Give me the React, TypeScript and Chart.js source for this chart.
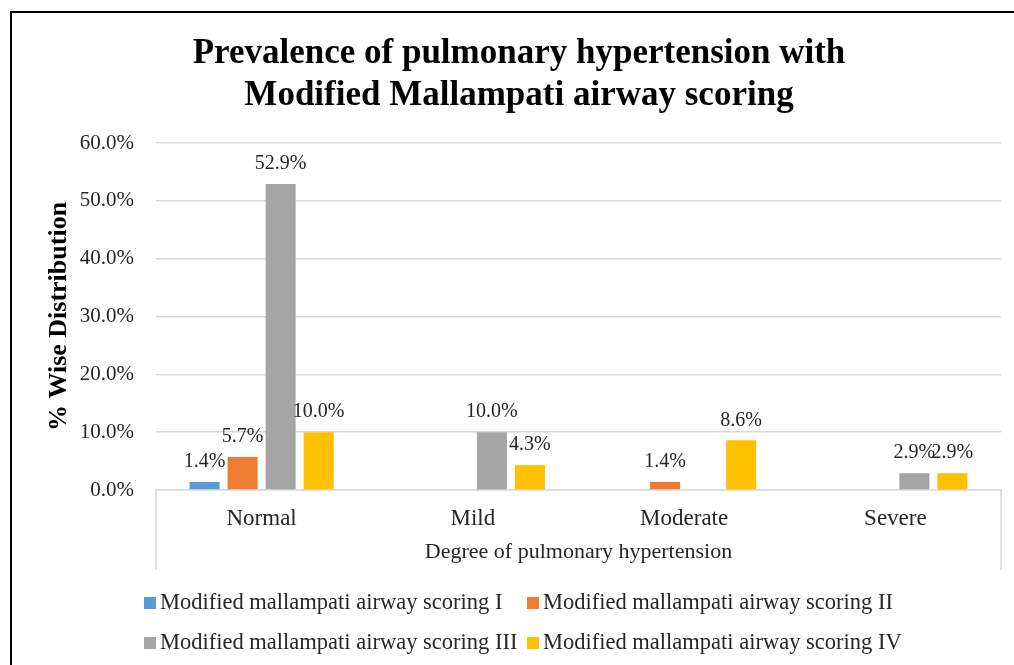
import React, { useEffect, useRef } from "react";
import { Chart, registerables } from "chart.js";

Chart.register(...registerables);

const categories = ["Normal", "Mild", "Moderate", "Severe"];
const seriesNames = [
  "Modified mallampati airway scoring I",
  "Modified mallampati airway scoring II",
  "Modified mallampati airway scoring III",
  "Modified mallampati airway scoring IV",
];
const scoringI = [1.4, 0, 0, 0];
const scoringII = [5.7, 0, 1.4, 0];
const scoringIII = [52.9, 10.0, 0, 2.9];
const scoringIV = [10.0, 4.3, 8.6, 2.9];
const seriesColors = ["#5B9BD5", "#ED7D31", "#A5A5A5", "#FFC000"];
const titleLines = [
  "Prevalence of pulmonary hypertension with",
  "Modified Mallampati airway scoring",
];
const yAxisTitle = "% Wise Distribution";
const xAxisTitle = "Degree of pulmonary hypertension";

const SERIF = "'Liberation Serif', 'Times New Roman', serif";
const TEXT = "#262626";
const GRID = "#D9D9D9";

const decorPlugin = {
  id: "decor",
  beforeDraw(chart: any) {
    const ctx = chart.ctx;
    ctx.save();
    ctx.fillStyle = "#ffffff";
    ctx.fillRect(0, 0, chart.width, chart.height);
    ctx.restore();
  },
  afterDraw(chart: any) {
    const ctx = chart.ctx;
    const area = chart.chartArea;
    const xs = chart.scales.x;
    ctx.save();
    // outer border
    ctx.strokeStyle = "#000";
    ctx.lineWidth = 2;
    ctx.strokeRect(11, 12, chart.width + 50, chart.height + 50);
    // title
    ctx.fillStyle = "#000";
    ctx.font = `bold 35px ${SERIF}`;
    ctx.textAlign = "center";
    ctx.textBaseline = "middle";
    titleLines.forEach((t, i) => ctx.fillText(t, 519, 54 + i * 42));
    // category box side lines
    ctx.strokeStyle = GRID;
    ctx.lineWidth = 1.5;
    ctx.beginPath();
    ctx.moveTo(area.left, area.bottom);
    ctx.lineTo(area.left, xs.bottom + 5);
    ctx.moveTo(area.right, area.bottom);
    ctx.lineTo(area.right, xs.bottom + 5);
    ctx.stroke();
    // legend
    const cols = [144, 527];
    const rows = [603, 643];
    ctx.font = `22.5px ${SERIF}`;
    ctx.textAlign = "left";
    ctx.textBaseline = "middle";
    seriesNames.forEach((name, i) => {
      const cx = cols[i % 2];
      const cy = rows[Math.floor(i / 2)];
      ctx.fillStyle = seriesColors[i];
      ctx.fillRect(cx, cy - 6, 12, 12);
      ctx.fillStyle = TEXT;
      ctx.fillText(name, cx + 16, cy);
    });
    ctx.restore();
  },
  afterDatasetsDraw(chart: any) {
    const ctx = chart.ctx;
    ctx.save();
    ctx.font = `20px ${SERIF}`;
    ctx.fillStyle = TEXT;
    ctx.textAlign = "center";
    ctx.textBaseline = "middle";
    chart.data.datasets.forEach((ds: any, di: number) => {
      const meta = chart.getDatasetMeta(di);
      meta.data.forEach((el: any, i: number) => {
        const v = ds.data[i];
        if (v > 0) ctx.fillText(v.toFixed(1) + "%", el.x, el.y - 20);
      });
    });
    ctx.restore();
  },
};

export default function App() {
  const ref = useRef<HTMLCanvasElement>(null);
  useEffect(() => {
    if (!ref.current) return;
    const data = [scoringI, scoringII, scoringIII, scoringIV];
    const chart = new Chart(ref.current, {
      type: "bar",
      data: {
        labels: categories,
        datasets: seriesNames.map((n, i) => ({
          label: n,
          data: data[i],
          backgroundColor: seriesColors[i],
          categoryPercentage: 0.72,
          barPercentage: 0.79,
        })),
      },
      options: {
        animation: false,
        responsive: false,
        maintainAspectRatio: false,
        layout: { padding: { left: 44, right: 13, top: 143, bottom: 100 } },
        plugins: {
          legend: { display: false },
          title: { display: false },
          tooltip: { enabled: false },
        },
        scales: {
          x: {
            grid: { display: false, drawTicks: false },
            border: { display: true, color: GRID, width: 1.5 },
            ticks: { color: TEXT, font: { family: SERIF, size: 23 }, padding: 15, maxRotation: 0 },
            title: {
              display: true,
              text: xAxisTitle,
              color: TEXT,
              font: { family: SERIF, size: 22 },
              padding: 0,
            },
            afterFit: (s: any) => {
              s.height = 75;
            },
          },
          y: {
            min: 0,
            max: 60,
            ticks: {
              stepSize: 10,
              color: TEXT,
              font: { family: SERIF, size: 21 },
              padding: 22,
              callback: (v: any) => Number(v).toFixed(1) + "%",
            },
            grid: { color: GRID, lineWidth: 1.5, drawTicks: false },
            border: { display: false },
            title: {
              display: true,
              text: yAxisTitle,
              color: "#000",
              font: { family: SERIF, size: 26, weight: "bold" },
              padding: 0,
            },
            afterFit: (s: any) => {
              s.width = 112;
            },
          },
        },
      },
      plugins: [decorPlugin],
    });
    return () => chart.destroy();
  }, []);
  return (
    <div style={{ position: "fixed", left: 0, top: 0, width: 1014, height: 665 }}>
      <canvas ref={ref} width={1014} height={665} style={{ display: "block" }} />
    </div>
  );
}
